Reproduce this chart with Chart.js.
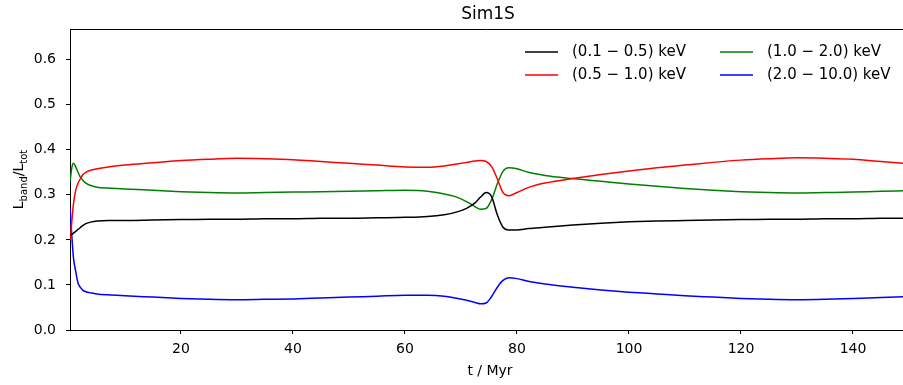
<!DOCTYPE html>
<html>
<head>
<meta charset="utf-8">
<script src="https://cdn.jsdelivr.net/npm/chart.js@4/dist/chart.umd.min.js"></script>
<style>
  body { margin: 0; background: #fff; }
  canvas { display: block; }
</style>
</head>
<body>
<canvas id="myChart" width="903" height="385"></canvas>
<script>
// time in Myr
const tMyr = [0.2, 0.5, 0.8, 1.2, 1.6, 2, 2.5, 3, 4, 5, 7, 10, 15, 20, 25, 30, 35, 40, 45, 50, 55, 60,
    64, 67, 69, 71, 72.5, 73.5, 74.5, 75.5, 76.5, 77.5, 78.5, 80, 82, 85, 90, 95, 100, 105, 110, 115,
    120, 125, 130, 135, 140, 145, 149];

const band01_05 = [0.210, 0.212, 0.215, 0.219, 0.223, 0.227, 0.232, 0.236, 0.240, 0.242, 0.243, 0.243,
    0.244, 0.245, 0.246, 0.246, 0.247, 0.247, 0.248, 0.248, 0.249, 0.250, 0.252, 0.256, 0.261, 0.270,
    0.282, 0.295, 0.305, 0.295, 0.255, 0.228, 0.222, 0.222, 0.225, 0.228, 0.233, 0.237, 0.240, 0.242,
    0.243, 0.244, 0.245, 0.246, 0.246, 0.247, 0.247, 0.248, 0.248];

const band05_10 = [0.200, 0.240, 0.280, 0.310, 0.325, 0.335, 0.345, 0.350, 0.355, 0.358, 0.362, 0.366,
    0.371, 0.376, 0.379, 0.381, 0.380, 0.378, 0.374, 0.370, 0.366, 0.362, 0.361, 0.364, 0.368, 0.372,
    0.375, 0.376, 0.374, 0.362, 0.335, 0.305, 0.298, 0.305, 0.316, 0.326, 0.336, 0.345, 0.353, 0.360,
    0.366, 0.372, 0.377, 0.380, 0.382, 0.381, 0.379, 0.374, 0.370];

const band10_20 = [0.330, 0.360, 0.370, 0.362, 0.350, 0.340, 0.332, 0.326, 0.320, 0.317, 0.315, 0.313,
    0.310, 0.307, 0.305, 0.304, 0.305, 0.306, 0.307, 0.308, 0.309, 0.310, 0.308, 0.302, 0.296, 0.285,
    0.274, 0.268, 0.270, 0.290, 0.325, 0.352, 0.360, 0.358, 0.350, 0.343, 0.336, 0.330, 0.324, 0.319,
    0.314, 0.310, 0.307, 0.305, 0.304, 0.305, 0.306, 0.308, 0.309];

const band20_100 = [0.270, 0.210, 0.160, 0.130, 0.105, 0.095, 0.088, 0.085, 0.082, 0.080, 0.078, 0.076,
    0.073, 0.070, 0.068, 0.067, 0.068, 0.069, 0.071, 0.073, 0.075, 0.077, 0.077, 0.075, 0.071, 0.066,
    0.061, 0.058, 0.060, 0.075, 0.095, 0.110, 0.116, 0.114, 0.108, 0.102, 0.095, 0.089, 0.084, 0.080,
    0.076, 0.073, 0.070, 0.068, 0.067, 0.068, 0.070, 0.072, 0.074];

const seriesLabels = ['(0.1 \u2212 0.5) keV', '(0.5 \u2212 1.0) keV', '(1.0 \u2212 2.0) keV', '(2.0 \u2212 10.0) keV'];
const seriesColors = ['#000000', '#ff0000', '#008000', '#0000ff'];
const xTicks = [20, 40, 60, 80, 100, 120, 140];
const yTicks = [0.0, 0.1, 0.2, 0.3, 0.4, 0.5, 0.6];

const FONT = '"DejaVu Sans", sans-serif';

function toPoints(ys) {
    return tMyr.map((t, i) => ({x: t, y: ys[i]}));
}

const allSeries = [band01_05, band05_10, band10_20, band20_100];

// title, axis labels, top spine and legend drawn by hand (matplotlib look)
const decorations = {
    id: 'decorations',
    afterDraw(chart) {
        const ctx = chart.ctx;
        const a = chart.chartArea;
        ctx.save();

        ctx.strokeStyle = '#000';
        ctx.lineWidth = 1;
        ctx.beginPath();
        ctx.moveTo(a.left, a.top + 0.5);
        ctx.lineTo(a.right, a.top + 0.5);
        ctx.stroke();

        ctx.fillStyle = '#000';
        ctx.textAlign = 'center';
        ctx.textBaseline = 'middle';
        ctx.font = '17px ' + FONT;
        ctx.fillText('Sim1S', 488, 15);

        ctx.font = '14px ' + FONT;
        ctx.fillText('t / Myr', 490, 371);

        // y label with subscripts
        ctx.translate(18, (a.top + a.bottom) / 2);
        ctx.rotate(-Math.PI / 2);
        const parts = [['L', 14, 0], ['band', 10, 4], ['/L', 14, 0], ['tot', 10, 4]];
        let w = 0;
        parts.forEach(p => { ctx.font = p[1] + 'px ' + FONT; w += ctx.measureText(p[0]).width; });
        let x = -w / 2;
        ctx.textAlign = 'left';
        ctx.textBaseline = 'alphabetic';
        parts.forEach(p => {
            ctx.font = p[1] + 'px ' + FONT;
            ctx.fillText(p[0], x, 5 + p[2]);
            x += ctx.measureText(p[0]).width;
        });
        ctx.setTransform(1, 0, 0, 1, 0, 0);

        // legend, two columns
        const cols = [525, 720];
        const rows = [52, 75];
        ctx.font = '15px ' + FONT;
        ctx.textBaseline = 'middle';
        ctx.lineWidth = 1.5;
        seriesLabels.forEach((lab, i) => {
            const cx = cols[Math.floor(i / 2)];
            const cy = rows[i % 2];
            ctx.strokeStyle = seriesColors[i];
            ctx.beginPath();
            ctx.moveTo(cx, cy);
            ctx.lineTo(cx + 33, cy);
            ctx.stroke();
            ctx.fillText(lab, cx + 47, cy);
        });
        ctx.restore();
    }
};

const ctx = document.getElementById('myChart').getContext('2d');
new Chart(ctx, {
    type: 'line',
    data: {
        datasets: allSeries.map((ys, i) => ({
            label: seriesLabels[i],
            data: toPoints(ys),
            borderColor: seriesColors[i],
            borderWidth: 1.5,
            pointRadius: 0,
            cubicInterpolationMode: 'monotone',
            fill: false
        }))
    },
    options: {
        responsive: false,
        animation: false,
        layout: { padding: { top: 29, right: 0, left: 0, bottom: 0 } },
        plugins: { legend: { display: false }, title: { display: false }, tooltip: { enabled: false } },
        scales: {
            x: {
                type: 'linear',
                min: 0.18,
                max: 148.93,
                afterBuildTicks: axis => { axis.ticks = xTicks.map(v => ({value: v})); },
                afterFit: axis => { axis.height = 55; },
                grid: { drawOnChartArea: false, color: '#000', tickLength: 4 },
                border: { color: '#000', width: 1 },
                ticks: { color: '#000', font: { family: FONT, size: 14 }, padding: 7, maxRotation: 0 }
            },
            y: {
                min: 0,
                max: 0.668,
                afterBuildTicks: axis => { axis.ticks = yTicks.map(v => ({value: v})); },
                afterFit: axis => { axis.width = 70; },
                grid: { drawOnChartArea: false, color: '#000', tickLength: 4 },
                border: { color: '#000', width: 1 },
                ticks: { color: '#000', font: { family: FONT, size: 14 }, padding: 10,
                    callback: v => v.toFixed(1) }
            }
        }
    },
    plugins: [decorations]
});
</script>
</body>
</html>
